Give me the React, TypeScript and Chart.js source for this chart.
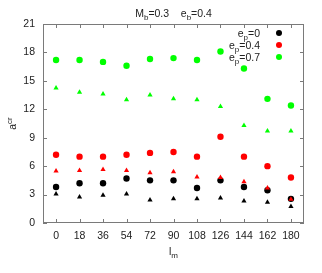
import React, { useEffect, useRef } from "react";
import { Chart, registerables } from "chart.js";
Chart.register(...registerables);

const inclinations = [0, 18, 36, 54, 72, 90, 108, 126, 144, 162, 180];
const xTickValues = [0, 18, 36, 54, 72, 90, 108, 126, 144, 162, 180];
const yTickValues = [0, 3, 6, 9, 12, 15, 18, 21];
const circEp0 = [3.8, 4.2, 4.2, 4.7, 4.5, 4.5, 3.7, 4.5, 3.8, 3.45, 2.55];
const circEp04 = [7.2, 7.0, 7.0, 7.2, 7.4, 7.5, 7.0, 9.1, 7.0, 6.0, 4.8];
const circEp07 = [17.2, 17.2, 17.0, 16.6, 17.3, 17.4, 17.2, 18.1, 16.3, 13.1, 12.4];
const triEp0 = [3.07, 2.75, 2.93, 3.07, 2.43, 2.55, 2.55, 2.65, 2.33, 2.2, 1.73];
const triEp04 = [5.5, 5.55, 5.65, 5.55, 5.3, 5.4, 4.85, 4.8, 4.35, 3.7, 2.5];
const triEp07 = [14.25, 13.8, 13.6, 13.0, 13.5, 13.1, 13.0, 12.3, 10.3, 9.7, 9.7];
const legendLabels = ["0", "0.4", "0.7"];
const colors = ["#000000", "#ff0000", "#00ff00"];

const FONT = '"Liberation Sans Narrow", "Liberation Sans", Arial, sans-serif';
const TEXT = "#222";

function pts(vals: number[]) {
  return inclinations.map((x, i) => ({ x, y: vals[i] }));
}

const decorPlugin = {
  id: "decor",
  afterDraw(chart: any) {
    const ctx = chart.ctx;
    const a = chart.chartArea;
    const xs = chart.scales.x;
    const ys = chart.scales.y;
    ctx.save();
    // frame
    ctx.strokeStyle = "#7a7a7a";
    ctx.lineWidth = 1;
    ctx.strokeRect(a.left + 0.5, a.top + 0.5, a.right - a.left - 1, a.bottom - a.top - 1);
    // inward ticks
    ctx.beginPath();
    xTickValues.forEach((v) => {
      const px = Math.round(xs.getPixelForValue(v)) + 0.5;
      ctx.moveTo(px, a.bottom);
      ctx.lineTo(px, a.bottom - 4);
      ctx.moveTo(px, a.top);
      ctx.lineTo(px, a.top + 4);
    });
    yTickValues.forEach((v) => {
      const py = Math.round(ys.getPixelForValue(v)) + 0.5;
      ctx.moveTo(a.left, py);
      ctx.lineTo(a.left + 4, py);
      ctx.moveTo(a.right, py);
      ctx.lineTo(a.right - 4, py);
    });
    ctx.stroke();

    ctx.fillStyle = TEXT;
    ctx.textBaseline = "alphabetic";
    const big = "10.5px " + FONT;
    const small = "8px " + FONT;

    // helper to draw runs [text, isSub/isSup]
    const runWidth = (runs: [string, number][]) => {
      let w = 0;
      runs.forEach(([t, s]) => {
        ctx.font = s === 0 ? big : small;
        w += ctx.measureText(t).width;
      });
      return w;
    };
    const drawRuns = (runs: [string, number][], x: number, y: number) => {
      let cx = x;
      ctx.textAlign = "left";
      runs.forEach(([t, s]) => {
        ctx.font = s === 0 ? big : small;
        const dy = s === 1 ? 3 : s === -1 ? -4 : 0;
        ctx.fillText(t, cx, y + dy);
        cx += ctx.measureText(t).width;
      });
    };

    // title
    const cxMid = (a.left + a.right) / 2;
    const title: [string, number][] = [["M", 0], ["b", 1], ["=0.3    e", 0], ["b", 1], ["=0.4", 0]];
    drawRuns(title, cxMid - runWidth(title) / 2, 17);

    // x label
    const xl: [string, number][] = [["l", 0], ["m", 1]];
    drawRuns(xl, cxMid - runWidth(xl) / 2, 255);

    // y label
    ctx.save();
    ctx.translate(16, (a.top + a.bottom) / 2);
    ctx.rotate(-Math.PI / 2);
    const yl: [string, number][] = [["a", 0], ["cr", -1]];
    drawRuns(yl, -runWidth(yl) / 2, 0);
    ctx.restore();

    // legend
    legendLabels.forEach((lab, i) => {
      const y = 37 + i * 12;
      const runs: [string, number][] = [["e", 0], ["p", 1], ["=" + lab, 0]];
      ctx.fillStyle = TEXT;
      drawRuns(runs, 260 - runWidth(runs), y);
      ctx.fillStyle = colors[i];
      ctx.beginPath();
      ctx.arc(279, y - 4, 3, 0, Math.PI * 2);
      ctx.fill();
    });
    ctx.restore();
  },
};

export default function App() {
  const ref = useRef<HTMLCanvasElement>(null);
  useEffect(() => {
    if (!ref.current) return;
    const circle = (label: string, vals: number[], c: string) => ({
      label,
      data: pts(vals),
      pointStyle: "circle",
      pointRadius: 3.2,
      backgroundColor: c,
      borderColor: c,
      borderWidth: 0,
      showLine: false,
    });
    const tri = (label: string, vals: number[], c: string) => ({
      label,
      data: pts(vals),
      pointStyle: "triangle",
      pointRadius: 3,
      backgroundColor: c,
      borderColor: c,
      borderWidth: 0,
      showLine: false,
    });
    const chart = new Chart(ref.current, {
      type: "scatter",
      data: {
        datasets: [
          tri("tri e_p=0.7", triEp07, colors[2]),
          circle("e_p=0.7", circEp07, colors[2]),
          tri("tri e_p=0.4", triEp04, colors[1]),
          circle("e_p=0.4", circEp04, colors[1]),
          tri("tri e_p=0", triEp0, colors[0]),
          circle("e_p=0", circEp0, colors[0]),
        ] as any,
      },
      options: {
        responsive: false,
        animation: false,
        layout: { padding: { left: 0, right: 18, top: 24, bottom: 0 } },
        plugins: { legend: { display: false }, tooltip: { enabled: false }, title: { display: false } },
        scales: {
          x: {
            type: "linear",
            min: -10,
            max: 190,
            grid: { display: false, drawTicks: false },
            border: { display: false },
            afterBuildTicks: (s: any) => {
              s.ticks = xTickValues.map((v) => ({ value: v }));
            },
            afterFit: (s: any) => {
              s.height = 50;
            },
            ticks: { color: TEXT, font: { family: FONT, size: 10.5 }, padding: 7, maxRotation: 0, autoSkip: false },
          },
          y: {
            type: "linear",
            min: 0,
            max: 21,
            grid: { display: false, drawTicks: false },
            border: { display: false },
            afterBuildTicks: (s: any) => {
              s.ticks = yTickValues.map((v) => ({ value: v }));
            },
            afterFit: (s: any) => {
              s.width = 43;
            },
            ticks: { color: TEXT, font: { family: FONT, size: 10.5 }, padding: 8 },
          },
        },
      } as any,
      plugins: [decorPlugin],
    });
    return () => chart.destroy();
  }, []);
  return (
    <div style={{ position: "absolute", left: 0, top: 0, width: 322, height: 273, background: "#fff" }}>
      <canvas ref={ref} width={322} height={273} />
    </div>
  );
}
